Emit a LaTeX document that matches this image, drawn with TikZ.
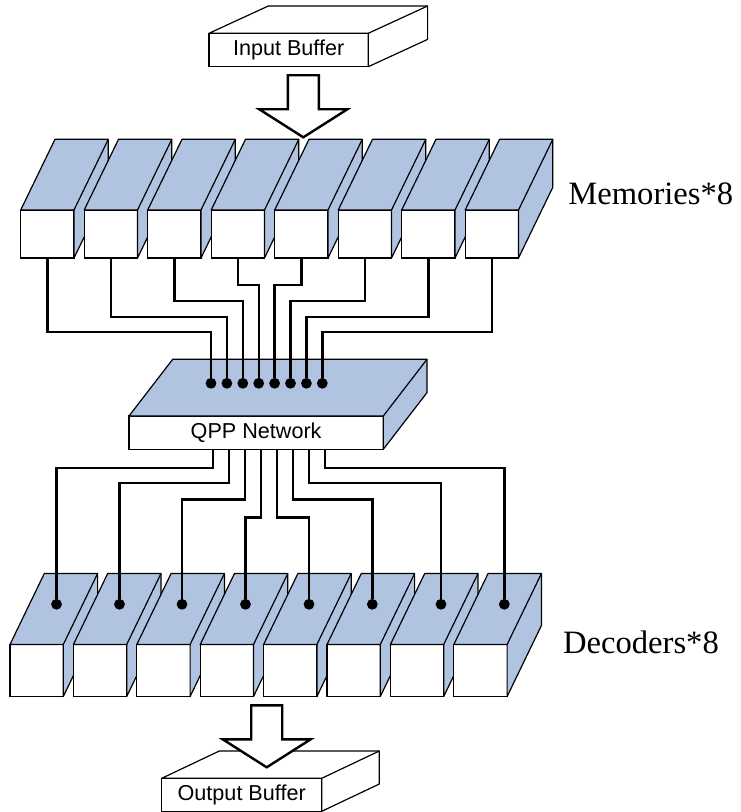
\documentclass[tikz,border=0pt]{standalone}
\usepackage{fontspec}
\setmainfont{Liberation Serif}
\setsansfont{Liberation Sans}
\definecolor{azul}{RGB}{176,196,226}
\tikzstyle{cara}=[rectangle,draw=black,fill=white,line width=.6pt,inner sep=0pt,outer sep=0pt,font=\sffamily\fontsize{10.8}{13}\selectfont]
\tikzstyle{tapa}=[draw=black,fill=azul,line width=.6pt,line join=round]
\tikzstyle{blanca}=[draw=black,fill=white,line width=.6pt,line join=round]
\tikzstyle{cable}=[draw=black,line width=1.2pt]
\tikzstyle{punto}=[circle,fill=black,inner sep=0pt,minimum size=5.4pt]
\tikzstyle{bloque}=[draw=black,fill=white,line width=1.2pt,line join=miter]
\tikzstyle{rotulo}=[font=\fontsize{16.3}{19}\selectfont,anchor=base west,inner sep=0pt]

% caja 3D: [estilo], nombre, x, y, ancho, alto, fondo x, fondo y, texto
\newcommand{\caja}[9][tapa]{%
  \node[cara,minimum width=#5*.5pt,minimum height=#6*.5pt,anchor=north west] (#2) at ({#3},{#4}) {#9};
  \draw[#1] (#2.north west) -- ++(#7,#8) -- ++(#5,0) -- ++(0,#6) -- (#2.south east) -- (#2.north east) -- cycle;
  \draw[#1] (#2.north east) -- ++(#7,#8);
}
% flecha gruesa hacia abajo, punta en #1
\newcommand{\flecha}[1]{%
  \draw[bloque] (#1) -- ++(-44,-28) -- ++(28.5,0) -- ++(0,-34) -- ++(31,0) -- ++(0,34) -- ++(28.5,0) -- cycle;
}

\begin{document}
\begin{tikzpicture}[x=.5pt,y=-.5pt]
\useasboundingbox (0,0) rectangle (740,812);

\caja[blanca]{inb}{209}{33.3}{159.3}{33.4}{59.3}{-27.3}{Input Buffer}

% memorias
\foreach \i in {0,...,7} {\caja{m\i}{20.7+63.5*\i}{210}{53.3}{48}{34.3}{-70.7}{}}
\coordinate (ent) at (303.3,137.3);
\flecha{ent}
\node[rotulo] (mem) at (568,205) {Memories*8};

% red QPP
\caja{qpp}{129}{416}{254.3}{33.3}{43.7}{-56.7}{QPP Network}
\foreach \j in {0,...,7} \node[punto] (p\j) at ({211+15.9*\j},383.3) {};
\foreach \i/\l in {0/74,1/59,2/43,3/27,4/27,5/43,6/59,7/74}
  \draw[cable] (m\i.south) -- ++(0,\l) -| (p\i);

% decodificadores
\foreach \i in {0,...,7} {\caja{d\i}{10+63.4*\i}{644.5}{53.3}{52}{34.3}{-71}{}}
\foreach \i/\x in {0/56.5,1/119.5,2/182,3/245.5,4/309,5/372.3,6/441,7/504.3}
  \node[punto] (q\i) at (\x,604.3) {};
\foreach \k/\l in {0/18.4,1/33.7,2/50.2,3/68,4/68,5/50.2,6/33.7,7/18.4} {
  \path (qpp.south west) ++({84+16*\k},0) coordinate (s\k);
  \draw[cable] (s\k) -- ++(0,\l) -| (q\k);
}
\node[rotulo] (dec) at (562.7,653.3) {Decoders*8};

\caja[blanca]{outb}{161.7}{778.3}{160}{33}{57.6}{-27.3}{Output Buffer}
\coordinate (sal) at (266.7,767.3);
\flecha{sal}
\end{tikzpicture}
\end{document}
